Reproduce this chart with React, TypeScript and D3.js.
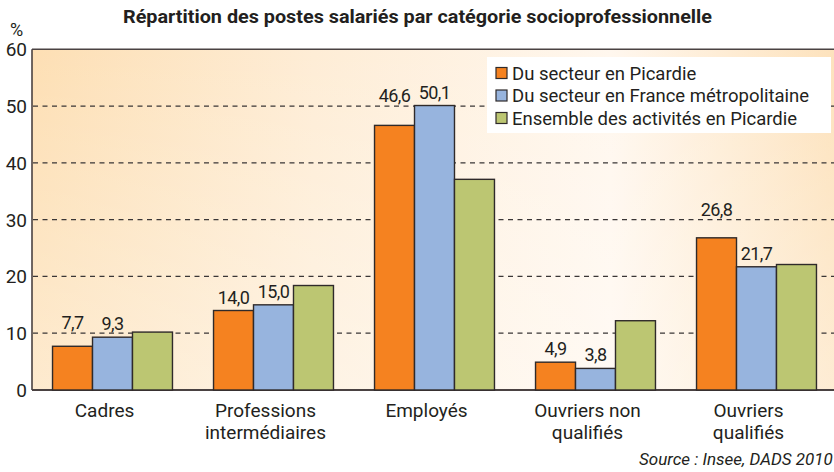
import React, {useRef, useEffect} from "react";
import * as d3 from "d3";

const W = 834;
const H = 472;

const title = "Répartition des postes salariés par catégorie socioprofessionnelle";
const categories = [
  "Cadres",
  "Professions\nintermédiaires",
  "Employés",
  "Ouvriers non\nqualifiés",
  "Ouvriers\nqualifiés",
];
const seriesNames = [
  "Du secteur en Picardie",
  "Du secteur en France métropolitaine",
  "Ensemble des activités en Picardie",
];
const secteurPicardie = [7.7, 14.0, 46.6, 4.9, 26.8];
const secteurFrance = [9.3, 15.0, 50.1, 3.8, 21.7];
const ensemblePicardie = [10.2, 18.4, 37.1, 12.2, 22.1];
const labelledSeries = [0, 1]; // only these carry value labels
const yTicks = [0, 10, 20, 30, 40, 50, 60];
const gridTicks = [10, 20, 30, 40, 50];
const colors = ["#f58220", "#97b4de", "#bcc672"];
const source = "Source : Insee, DADS 2010";

const App = () => {
  const svgRef = useRef(null);

  useEffect(() => {
    const svg = d3.select(svgRef.current);
    svg.selectAll("*").remove();

    const margin = {left: 32, right: -3, top: 49.3, bottom: 82};
    const x0 = d3
      .scaleBand()
      .domain(categories)
      .range([margin.left, W - margin.right])
      .paddingInner(0.255)
      .paddingOuter(0.1275);
    const x1 = d3
      .scaleBand()
      .domain(seriesNames)
      .range([0, x0.bandwidth()]);
    const y = d3
      .scaleLinear()
      .domain([0, 60])
      .range([H - margin.bottom, margin.top]);

    const series = [secteurPicardie, secteurFrance, ensemblePicardie];
    const rows = categories.map((c, i) =>
      seriesNames.map((s, j) => ({cat: c, name: s, value: series[j][i], j}))
    );

    // background gradient
    const defs = svg.append("defs");
    const grad = defs
      .append("linearGradient")
      .attr("id", "bg")
      .attr("x1", "0")
      .attr("x2", "1")
      .attr("y1", "0")
      .attr("y2", "0");
    [
      [0, "#fddfb4"],
      [0.35, "#feedd6"],
      [0.72, "#fff7ee"],
      [1, "#fde2bc"],
    ].forEach(([o, c]) => grad.append("stop").attr("offset", o).attr("stop-color", c));
    const vgrad = defs
      .append("linearGradient")
      .attr("id", "bgv")
      .attr("x1", "0")
      .attr("x2", "0")
      .attr("y1", "0")
      .attr("y2", "1");
    vgrad.append("stop").attr("offset", 0).attr("stop-color", "#fff").attr("stop-opacity", 0);
    vgrad.append("stop").attr("offset", 1).attr("stop-color", "#fff").attr("stop-opacity", 0.35);

    const [px0, px1] = x0.range();
    const plotH = y(0) - y(60);
    svg
      .append("rect")
      .attr("x", px0)
      .attr("y", y(60))
      .attr("width", px1 - px0)
      .attr("height", plotH)
      .attr("fill", "url(#bg)");
    svg
      .append("rect")
      .attr("x", px0)
      .attr("y", y(60))
      .attr("width", px1 - px0)
      .attr("height", plotH)
      .attr("fill", "url(#bgv)");

    // gridlines
    svg
      .append("g")
      .selectAll("line")
      .data(gridTicks)
      .enter()
      .append("line")
      .attr("x1", px0 + 1)
      .attr("x2", px1)
      .attr("y1", (d) => y(d))
      .attr("y2", (d) => y(d))
      .attr("stroke", "#3a3636")
      .attr("stroke-width", 1.2)
      .attr("stroke-dasharray", "5,4.5");

    // frame: top, left, bottom
    const frame = svg.append("g").attr("stroke", "#4a4242").attr("fill", "none");
    frame.append("line").attr("x1", px0).attr("x2", px1).attr("y1", y(60)).attr("y2", y(60)).attr("stroke-width", 1.6);
    frame.append("line").attr("x1", px0).attr("x2", px0).attr("y1", y(60)).attr("y2", y(0)).attr("stroke-width", 1.6);

    // bars
    const groups = svg
      .append("g")
      .selectAll("g")
      .data(rows)
      .enter()
      .append("g")
      .attr("transform", (d) => `translate(${x0(d[0].cat)},0)`);
    groups
      .selectAll("rect")
      .data((d) => d)
      .enter()
      .append("rect")
      .attr("x", (d) => x1(d.name))
      .attr("y", (d) => y(d.value))
      .attr("width", x1.bandwidth())
      .attr("height", (d) => y(0) - y(d.value))
      .attr("fill", (d) => colors[d.j])
      .attr("stroke", "#2f2a2a")
      .attr("stroke-width", 1.4);

    frame.append("line").attr("x1", px0).attr("x2", px1).attr("y1", y(0)).attr("y2", y(0)).attr("stroke-width", 2);

    // value labels, lifted above a gridline when they would sit on it
    const labelY = (v) => {
      let base = y(v) - 7;
      gridTicks.forEach((t) => {
        const gy = y(t);
        if (gy > base - 15 && gy < base + 2) base = gy - 4;
      });
      return base;
    };
    groups
      .selectAll("text.val")
      .data((d) => d.filter((e) => labelledSeries.includes(e.j)))
      .enter()
      .append("text")
      .attr("class", "val")
      .attr("x", (d) => x1(d.name) + x1.bandwidth() / 2)
      .attr("y", (d) => labelY(d.value))
      .attr("text-anchor", "middle")
      .attr("font-family", "Roboto")
      .attr("font-size", 18)
      .attr("letter-spacing", -0.6)
      .attr("fill", "#231f20")
      .text((d) => d3.format(".1f")(d.value).replace(".", ","));

    // y axis labels
    svg
      .append("g")
      .selectAll("text")
      .data(yTicks)
      .enter()
      .append("text")
      .attr("x", 27)
      .attr("y", (d) => y(d) + 7)
      .attr("text-anchor", "end")
      .attr("font-family", "Roboto")
      .attr("font-size", 19)
      .attr("fill", "#231f20")
      .text((d) => d);
    svg
      .append("text")
      .attr("x", 10)
      .attr("y", 36)
      .attr("font-family", "Roboto")
      .attr("font-size", 18)
      .attr("fill", "#231f20")
      .text("%");

    // category labels
    const cat = svg
      .append("g")
      .selectAll("text")
      .data(categories)
      .enter()
      .append("text")
      .attr("x", (d) => x0(d) + x0.bandwidth() / 2 - 8)
      .attr("y", y(0) + 27)
      .attr("text-anchor", "middle")
      .attr("font-family", "Roboto")
      .attr("font-size", 19)
      .attr("fill", "#231f20");
    cat
      .selectAll("tspan")
      .data((d) => d.split("\n"))
      .enter()
      .append("tspan")
      .attr("x", function () {
        return d3.select(this.parentNode).attr("x");
      })
      .attr("dy", (d, i) => (i === 0 ? 0 : 22))
      .text((d) => d);

    // legend
    const lg = svg.append("g");
    lg.append("rect")
      .attr("x", 487)
      .attr("y", 57)
      .attr("width", 344)
      .attr("height", 76)
      .attr("fill", "#ffffff");
    const li = lg
      .selectAll("g")
      .data(seriesNames)
      .enter()
      .append("g")
      .attr("transform", (d, i) => `translate(496, ${73 + i * 22.5})`);
    li.append("rect")
      .attr("x", 0)
      .attr("y", -5.5)
      .attr("width", 11)
      .attr("height", 11)
      .attr("fill", (d, i) => colors[i])
      .attr("stroke", "#2f2a2a")
      .attr("stroke-width", 1.2);
    li.append("text")
      .attr("x", 16)
      .attr("y", 6.5)
      .attr("font-family", "Roboto")
      .attr("font-size", 18.5)
      .attr("fill", "#231f20")
      .text((d) => d);

    // title & source
    svg
      .append("text")
      .attr("x", 123)
      .attr("y", 22.7)
      .attr("font-family", "Roboto")
      .attr("font-weight", "bold")
      .attr("font-size", 18.5)
      .attr("textLength", 589)
      .attr("lengthAdjust", "spacingAndGlyphs")
      .attr("fill", "#231f20")
      .text(title);
    svg
      .append("text")
      .attr("x", 639)
      .attr("y", 465)
      .attr("font-family", "Roboto")
      .attr("font-style", "italic")
      .attr("font-size", 17)
      .attr("fill", "#231f20")
      .text(source);
  }, []);

  return (
    <svg
      ref={svgRef}
      width={W}
      height={H}
      style={{position: "absolute", left: 0, top: 0, background: "#fff"}}
    ></svg>
  );
};

export default App;
